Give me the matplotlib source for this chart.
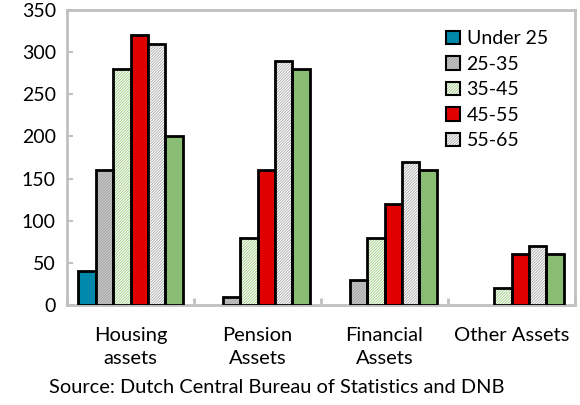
import numpy as np
import matplotlib
matplotlib.use("Agg")
import matplotlib.pyplot as plt
from matplotlib.patches import Patch
from matplotlib.legend_handler import HandlerTuple

plt.rcParams["font.family"] = ["Lato", "DejaVu Sans"]
plt.rcParams["hatch.linewidth"] = 0.6

# ---------------- data ----------------
categories = ["Housing\nassets", "Pension\nAssets", "Financial\nAssets", "Other Assets"]
series = ["Under 25", "25-35", "35-45", "45-55", "55-65", "65+"]
under25 = [40, 0, 0, 0]
age25_35 = [160, 10, 30, 0]
age35_45 = [280, 80, 80, 20]
age45_55 = [320, 160, 120, 60]
age55_65 = [310, 290, 170, 70]
age65p = [200, 280, 160, 60]
values = [under25, age25_35, age35_45, age45_55, age55_65, age65p]

# face, hatch colour (None = solid)
styles = [
    ("#0088AA", None),
    ("#CACACA", "#A0A0A0"),
    ("#FFFFFF", "#9CCB80"),
    ("#E00000", None),
    ("#FFFFFF", "#A8A8A8"),
    ("#8ABD74", None),
]
HATCH = "////////////"

fig = plt.figure(figsize=(5.8, 4.05), dpi=100)
ax = fig.add_axes([0.1155, 0.247, 0.876, 0.728])

x = np.arange(len(categories))
w = 0.137
handles = []
for i, (vals, (face, hc)) in enumerate(zip(values, styles)):
    vals = np.array(vals, float)
    pos = x + (i - 2.5) * w
    keep = vals > 0
    pos, vals = pos[keep], vals[keep]
    if hc is None:
        ax.bar(pos, vals, w, color=face, edgecolor="black", linewidth=2, zorder=3)
        h = Patch(facecolor=face, edgecolor="black", linewidth=1.5)
    else:
        ax.bar(pos, vals, w, color=face, edgecolor=hc, linewidth=0,
               hatch=HATCH, zorder=3)
        ax.bar(pos, vals, w, fill=False, edgecolor="black", linewidth=2, zorder=4)
        h = (Patch(facecolor=face, edgecolor=hc, linewidth=0, hatch=HATCH),
             Patch(fill=False, edgecolor="black", linewidth=1.5))
    handles.append(h)

ax.set_xlim(-0.5, 3.5)
ax.set_ylim(0, 350)
ax.set_yticks(np.arange(0, 351, 50))
ax.set_xticks(x)
ax.set_xticklabels(categories, linespacing=1.4)
ax.set_xticks(np.arange(-0.5, 3.6, 1.0), minor=True)
ax.tick_params(axis="x", which="major", length=0, pad=16, labelsize=14.5)
ax.tick_params(axis="x", which="minor", direction="in", length=5, width=2,
               color="#C0C0C0")
ax.tick_params(axis="y", direction="in", length=4, width=1.5, color="#C0C0C0",
               labelsize=14, pad=8)
for s in ax.spines.values():
    s.set_color("#C0C0C0")
    s.set_linewidth(2)

ax.legend(handles[:5], series[:5], loc="upper left", bbox_to_anchor=(0.727, 0.965),
          frameon=False, fontsize=14, handlelength=0.7, handleheight=0.7,
          handletextpad=0.35, labelspacing=0.44, borderpad=0,
          handler_map={tuple: HandlerTuple(ndivide=1, pad=0)})

fig.text(0.478, 0.042, "Source: Dutch Central Bureau of Statistics and DNB",
         ha="center", va="center", fontsize=14.4)

fig.savefig("out.png", dpi=100)
